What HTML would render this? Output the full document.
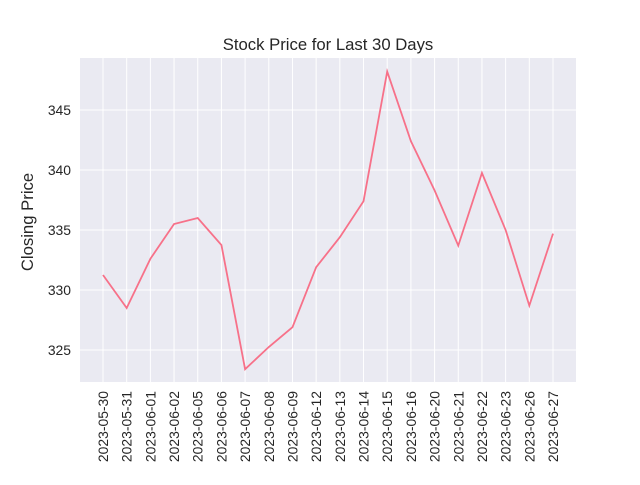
<!DOCTYPE html>
<html><head><meta charset="utf-8"><style>
body{margin:0;background:#fff;font-family:"Liberation Sans","DejaVu Sans",sans-serif;}
</style></head><body>
<svg id="chart" width="640" height="480" xmlns="http://www.w3.org/2000/svg">
<rect x="80" y="58" width="496" height="324" fill="#eaeaf2"/>
<g id="grid"></g>
<g id="ticks"></g>
<polyline id="line" fill="none" stroke="#f77189" stroke-width="1.8"/>
<text x="328" y="50" text-anchor="middle" font-size="16.7" fill="#262626">Stock Price for Last 30 Days</text>
<text transform="translate(33,222) rotate(-90)" text-anchor="middle" font-size="16.7" fill="#262626">Closing Price</text>
</svg>
<script>
const dates=["2023-05-30","2023-05-31","2023-06-01","2023-06-02","2023-06-05","2023-06-06","2023-06-07","2023-06-08","2023-06-09","2023-06-12","2023-06-13","2023-06-14","2023-06-15","2023-06-16","2023-06-20","2023-06-21","2023-06-22","2023-06-23","2023-06-26","2023-06-27"];
const prices=[331.25,328.5,332.6,335.5,336.0,333.75,323.4,325.25,326.9,331.9,334.4,337.4,348.2,342.4,338.3,333.7,339.75,335.0,328.7,334.7];
const yTicks=[325,330,335,340,345];
const NS="http://www.w3.org/2000/svg";
const xs=i=>103+i*(553-103)/(dates.length-1);
const ys=v=>350-(v-325)*12;
const grid=document.getElementById('grid'),ticks=document.getElementById('ticks');
function mk(t,a,p){const e=document.createElementNS(NS,t);for(const k in a)e.setAttribute(k,a[k]);p.appendChild(e);return e;}
dates.forEach((d,i)=>{
 const l=mk('line',{x1:xs(i),x2:xs(i),y1:58,y2:382,stroke:'#fff','stroke-width':1},grid);
 
 
 const t=mk('text',{transform:`translate(${xs(i)+5},391) rotate(-90)`,'text-anchor':'end','font-size':13.9,fill:'#262626'},ticks);
 t.textContent=d;
 
 
});
yTicks.forEach(v=>{
 const l=mk('line',{x1:80,x2:576,y1:ys(v),y2:ys(v),stroke:'#fff','stroke-width':1},grid);
 
 
 const t=mk('text',{x:71,y:ys(v)+5,'text-anchor':'end','font-size':13.9,fill:'#262626'},ticks);
 t.textContent=v;
 
 
});
document.getElementById('line').setAttribute('points',prices.map((p,i)=>xs(i)+','+ys(p)).join(' '));
</script>
</body></html>
